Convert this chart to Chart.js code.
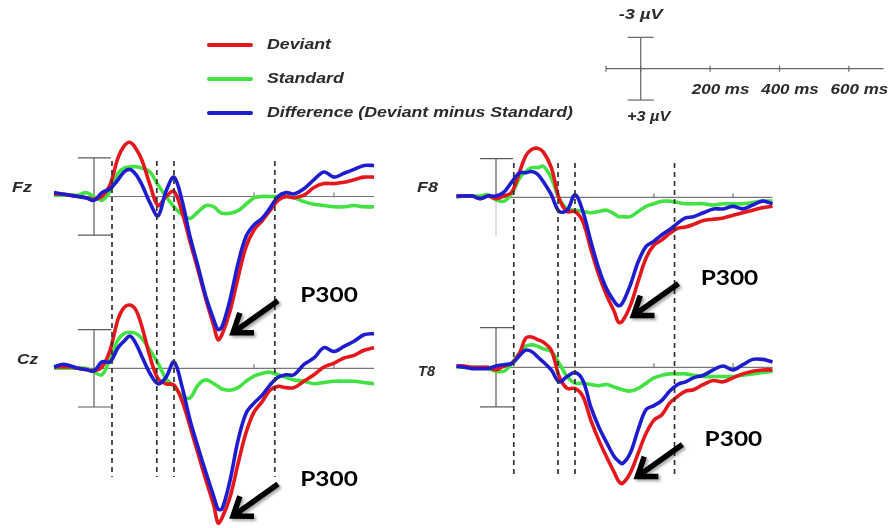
<!DOCTYPE html>
<html>
<head>
<meta charset="utf-8">
<script src="https://cdn.jsdelivr.net/npm/chart.js@4/dist/chart.umd.min.js"></script>
<style>
  html, body { margin: 0; background: #fff; }
  #wrap { position: relative; width: 891px; height: 528px; }
</style>
</head>
<body>
<div id="wrap"><canvas id="erp" width="891" height="528"></canvas></div>
<script>
// epoch sample times (ms)
const times = [-100, -80, -60, -40, -20, 0, 20, 40, 60, 75, 90, 105, 120, 140, 160, 180, 200, 220, 240, 260,
  280, 300, 310, 320, 340, 360, 380, 400, 420, 440, 460, 480, 500, 525, 550, 575, 600, 625, 650, 675, 700];

// grand averages in µV (negative plotted up)
const fzDeviant = [-0.2, -0.2, -0.1, 0, 0.1, 0.2, 0, -0.9, -3.0, -3.9, -4.2, -3.7, -2.8, -0.9, 0.7, 0, -0.4, 1.2, 3.5, 5.7,
  8.0, 10.1, 11.1, 10.7, 8.9, 6.3, 3.9, 2.6, 1.9, 1.1, 0.3, 0, 0.1, -0.1, -0.7, -1.0, -1.0, -1.1, -1.3, -1.5, -1.5];
const fzStandard = [-0.1, -0.1, -0.1, -0.1, -0.3, 0, 0.3, -0.4, -1.8, -2.2, -2.3, -2.3, -2.2, -1.9, -0.9, 0, 0.8, 1.4, 1.7, 1.2,
  0.7, 0.8, 1.1, 1.3, 1.3, 1.1, 0.6, 0.1, 0, 0, 0, 0, 0.1, 0.4, 0.6, 0.7, 0.8, 0.8, 0.7, 0.8, 0.8];
const fzDifference = [-0.3, -0.2, -0.1, 0, 0.1, 0.3, -0.3, -0.6, -1.3, -1.9, -2.1, -1.7, -0.9, 0.5, 1.5, -0.4, -1.5, 0.3, 3.1, 5.4,
  7.8, 9.6, 10.3, 10.1, 8.0, 5.2, 3.1, 2.2, 1.7, 0.9, 0, -0.3, -0.2, -0.6, -1.3, -1.9, -1.5, -1.8, -2.1, -2.4, -2.4];

const f8Deviant = [-0.1, -0.1, -0.1, 0.1, -0.1, 0.1, -0.1, -0.4, -2.0, -3.2, -3.7, -3.8, -3.5, -2.3, 0.1, 1.1, 1.1, 1.9, 4.0, 6.0,
  7.6, 8.9, 9.7, 9.6, 8.4, 6.5, 4.7, 3.7, 3.3, 2.8, 2.4, 2.3, 2.1, 1.8, 1.7, 1.6, 1.4, 1.2, 1.0, 0.8, 0.7];
const f8Standard = [0, -0.1, -0.1, -0.1, -0.2, 0.2, 0.3, -0.3, -1.5, -2.0, -2.3, -2.3, -2.4, -1.5, 0.1, 0.9, 1.0, 1.1, 1.2, 1.1,
  1.0, 1.3, 1.5, 1.5, 1.5, 1.1, 0.7, 0.5, 0.3, 0.3, 0.4, 0.5, 0.5, 0.5, 0.6, 0.5, 0.5, 0.5, 0.4, 0.3, 0.3];
const f8Difference = [-0.1, -0.1, -0.1, 0.1, -0.1, -0.1, -0.4, -1.2, -1.9, -1.9, -2.0, -1.8, -1.2, -0.2, 1.1, 1.0, -0.2, 1.1, 3.4, 5.5,
  7.1, 8.1, 8.4, 8.2, 6.8, 5.0, 3.8, 3.4, 2.9, 2.5, 2.0, 1.6, 1.5, 1.2, 0.9, 0.9, 0.7, 0.9, 0.6, 0.3, 0.5];

const czDeviant = [-0.1, -0.1, -0.1, 0, 0.1, 0.2, -0.1, -1.4, -3.8, -4.7, -4.9, -4.5, -3.2, -0.9, 0.8, 1.2, 1.3, 2.5, 4.5, 6.6,
  8.7, 10.7, 12.0, 11.6, 10.0, 7.4, 5.0, 3.4, 2.6, 1.7, 1.4, 1.5, 1.5, 1.0, 0.5, -0.1, -0.4, -0.8, -1.0, -1.4, -1.6];
const czStandard = [0, 0, 0, 0, 0, 0.3, 0.5, -0.7, -2.2, -2.7, -2.8, -2.7, -2.3, -1.4, -0.4, 0.8, 1.4, 2.1, 2.3, 1.3,
  0.9, 1.2, 1.4, 1.6, 1.7, 1.5, 1.0, 0.6, 0.4, 0.3, 0.5, 0.7, 0.9, 1.0, 1.2, 1.1, 1.0, 1.0, 1.0, 1.1, 1.2];
const czDifference = [-0.1, -0.3, -0.2, 0, 0.1, 0.2, -0.5, -0.5, -1.6, -2.1, -2.5, -1.9, -0.9, 0.4, 1.2, 0.7, -0.5, 1.4, 4.0, 6.1,
  8.1, 10.0, 10.9, 10.9, 8.7, 5.6, 3.5, 2.7, 2.1, 1.3, 0.7, 0.5, 0.5, -0.3, -0.8, -1.6, -1.3, -1.7, -2.1, -2.6, -2.7];

const t8Deviant = [-0.1, -0.1, 0, 0, 0, 0.2, -0.1, -0.3, -1.1, -2.2, -2.3, -2.1, -1.9, -1.3, 0.7, 1.6, 1.6, 2.2, 4.0, 5.5,
  6.8, 8.0, 8.6, 8.8, 8.0, 6.5, 5.0, 4.0, 3.6, 2.7, 2.2, 1.8, 1.7, 1.3, 1.0, 1.1, 0.8, 0.5, 0.3, 0.2, 0.2];
const t8Standard = [0, 0, 0, 0, 0.1, 0.3, 0.3, -0.3, -1.1, -1.6, -1.7, -1.6, -1.4, -1.2, -0.3, 0.7, 1.2, 1.2, 1.3, 1.4,
  1.3, 1.5, 1.6, 1.7, 1.8, 1.6, 1.2, 0.8, 0.6, 0.5, 0.5, 0.5, 0.6, 0.7, 0.7, 0.7, 0.7, 0.6, 0.5, 0.4, 0.3];
const t8Difference = [-0.1, 0, 0.1, 0.1, 0.1, -0.1, -0.2, -0.3, -0.9, -1.3, -1.2, -0.8, -0.4, 0.2, 1.1, 0.7, 0.4, 1.0, 3.0, 4.5,
  5.7, 6.8, 7.1, 7.3, 6.5, 4.7, 3.2, 2.9, 2.5, 1.8, 1.3, 1.1, 0.8, 0.6, 0.2, -0.1, 0.2, -0.2, -0.6, -0.6, -0.4];

const seriesNames = ['Deviant', 'Standard', 'Difference (Deviant minus Standard)'];
const seriesColours = ['#e5171c', '#43e243', '#1d1dcf'];
const seriesOrder = [1, 2, 0];          // blue on top, green underneath
const markerTimes = [45, 157, 200, 452]; // dashed latency markers (ms)
const axisTicks = [200, 400, 600];
const keyTickLabels = ['200 ms', '400 ms', '600 ms'];
const barMicrovolts = 3;
const peakLabel = 'P300';

const panels = [
  { name: 'Fz', x: 'xL', y: 'yFz', series: [fzDeviant, fzStandard, fzDifference], label: [22, 188, 20] },
  { name: 'F8', x: 'xR', y: 'yF8', series: [f8Deviant, f8Standard, f8Difference], label: [427.5, 188, 21], faintLower: true },
  { name: 'Cz', x: 'xL', y: 'yCz', series: [czDeviant, czStandard, czDifference], label: [27.5, 360, 21] },
  { name: 'T8', x: 'xR', y: 'yT8', series: [t8Deviant, t8Standard, t8Difference], label: [426.5, 372, 17] }
];

const W = 891, H = 528;
// hidden linear scale that puts value 0 at pixel `origin` with `perUnit` px per unit
function place(origin, perUnit, size, reverse) {
  return { type: 'linear', display: false, reverse: !!reverse, bounds: 'data',
    min: -origin / perUnit, max: (size - origin) / perUnit };
}

const datasets = [];
panels.forEach(p => {
  p.series.forEach((vals, i) => {
    datasets.push({
      label: p.name + ' ' + seriesNames[i],
      data: times.map((t, j) => ({ x: t, y: vals[j] })),
      xAxisID: p.x,
      yAxisID: p.y,
      borderColor: seriesColours[i],
      borderWidth: 3.6,
      pointRadius: 0,
      tension: 0.35,
      order: seriesOrder[i]
    });
  });
});

const FONT = '"Liberation Sans", Arial, sans-serif';

function fitText(ctx, text, x, y, font, width, align) {
  ctx.save();
  ctx.font = font;
  const w = ctx.measureText(text).width;
  ctx.translate(x, y);
  ctx.scale(width / w, 1);
  ctx.textAlign = align || 'center';
  ctx.textBaseline = 'middle';
  ctx.fillText(text, 0, 0);
  ctx.restore();
}

function line(ctx, x1, y1, x2, y2) {
  ctx.beginPath();
  ctx.moveTo(x1, y1);
  ctx.lineTo(x2, y2);
  ctx.stroke();
}

function arrow(ctx, tx, ty, hx, hy) {
  const a = Math.atan2(hy - ty, hx - tx);
  const L = 21, spread = 0.62;
  ctx.save();
  ctx.shadowColor = 'rgba(0,0,0,0.35)';
  ctx.shadowBlur = 3;
  ctx.shadowOffsetX = 2;
  ctx.shadowOffsetY = 2;
  ctx.strokeStyle = '#000';
  ctx.lineWidth = 5.5;
  ctx.lineJoin = 'miter';
  ctx.beginPath();
  ctx.moveTo(tx, ty);
  ctx.lineTo(hx - 3 * Math.cos(a), hy - 3 * Math.sin(a));
  ctx.moveTo(hx - L * Math.cos(a - spread), hy - L * Math.sin(a - spread));
  ctx.lineTo(hx, hy);
  ctx.lineTo(hx - L * Math.cos(a + spread), hy - L * Math.sin(a + spread));
  ctx.stroke();
  ctx.restore();
}

// vertical ±3 µV bar with end caps, centred on t = 0
function scaleBar(ctx, xs, ys, capL, capR, faintLower) {
  const x = xs.getPixelForValue(0);
  const top = ys.getPixelForValue(-barMicrovolts);
  const mid = ys.getPixelForValue(0);
  const bot = ys.getPixelForValue(barMicrovolts);
  ctx.strokeStyle = '#5a5a5a';
  line(ctx, x, top, x, mid);
  line(ctx, x - capL, top, x + capR, top);
  if (faintLower) {
    ctx.strokeStyle = '#c8c8c8';
    line(ctx, x, mid, x, bot);
  } else {
    line(ctx, x, mid, x, bot);
    line(ctx, x - capL, bot, x + capR, bot);
  }
}

const decor = {
  id: 'decor',
  beforeDatasetsDraw(chart) {
    const ctx = chart.ctx;
    const s = chart.scales;
    ctx.save();
    ctx.lineWidth = 1.2;
    panels.forEach(p => {
      const xs = s[p.x], ys = s[p.y];
      const y0 = ys.getPixelForValue(0);
      ctx.strokeStyle = '#777';
      line(ctx, xs.getPixelForValue(times[0]), y0, xs.getPixelForValue(times[times.length - 1]), y0);
      axisTicks.forEach(t => {
        const x = xs.getPixelForValue(t);
        line(ctx, x, y0 - 4, x, y0 + 1);
      });
      scaleBar(ctx, xs, ys, 16, 17, p.faintLower);
    });
    ctx.restore();
  },
  afterDatasetsDraw(chart) {
    const ctx = chart.ctx;
    const s = chart.scales;
    ctx.save();

    // latency markers, spanning both rows of each column
    ctx.strokeStyle = '#333';
    ctx.lineWidth = 1.7;
    ctx.setLineDash([5, 4]);
    [['xL', 161, 477], ['xR', 163, 477]].forEach(([id, top, bottom]) => {
      markerTimes.forEach(t => {
        const x = s[id].getPixelForValue(t);
        line(ctx, x, top, x, bottom);
      });
    });
    ctx.setLineDash([]);

    // channel names, P300 arrows
    panels.forEach(p => {
      const xs = s[p.x], ys = s[p.y];
      ctx.fillStyle = '#2b2b2b';
      fitText(ctx, p.name, p.label[0], p.label[1], 'italic bold 14px ' + FONT, p.label[2]);

      const dev = p.series[0];
      let k = 0;
      dev.forEach((v, i) => { if (v > dev[k]) k = i; });
      const hx = xs.getPixelForValue(times[k]) + 15;
      const hy = ys.getPixelForValue(dev[k]) - 7;
      arrow(ctx, hx + 45, hy - 32, hx, hy);
      ctx.fillStyle = '#000';
      fitText(ctx, peakLabel, hx + 96, hy - 37, 'bold 21px Lato, "Open Sans", sans-serif', 57.6);
    });

    // legend
    ctx.lineWidth = 4;
    ctx.lineCap = 'round';
    const legendRows = [45, 79, 113];
    const legendWidths = [64, 76.7, 306];
    seriesNames.forEach((n, i) => {
      ctx.strokeStyle = seriesColours[i];
      line(ctx, 209, legendRows[i], 251, legendRows[i]);
      ctx.fillStyle = '#2b2b2b';
      fitText(ctx, n, 267, legendRows[i], 'italic bold 15px ' + FONT, legendWidths[i], 'left');
    });
    ctx.lineCap = 'butt';

    // calibration key
    const kx = s.xK, ky = s.yK;
    const ky0 = ky.getPixelForValue(0);
    ctx.strokeStyle = '#666';
    ctx.lineWidth = 1.2;
    line(ctx, kx.getPixelForValue(times[0]), ky0, kx.getPixelForValue(times[times.length - 1]), ky0);
    [times[0], 0].concat(axisTicks).forEach(t => {
      const x = kx.getPixelForValue(t);
      line(ctx, x, ky0 - 3, x, ky0 + 3);
    });
    const kbx = kx.getPixelForValue(0);
    const kTop = ky.getPixelForValue(-barMicrovolts), kBot = ky.getPixelForValue(barMicrovolts);
    line(ctx, kbx, kTop, kbx, kBot);
    line(ctx, kbx - 13, kTop, kbx + 13, kTop);
    line(ctx, kbx - 13, kBot, kbx + 13, kBot);
    ctx.fillStyle = '#2b2b2b';
    fitText(ctx, '-' + barMicrovolts + ' µV', kbx, kTop - 22, 'italic bold 14px ' + FONT, 44);
    fitText(ctx, '+' + barMicrovolts + ' µV', kbx + 8, kBot + 17, 'italic bold 14px ' + FONT, 43.3);
    axisTicks.forEach((t, i) => {
      fitText(ctx, keyTickLabels[i], kx.getPixelForValue(t) + 10.5, ky0 + 21, 'italic bold 15px ' + FONT, 57.6);
    });

    ctx.restore();
  }
};

new Chart(document.getElementById('erp'), {
  type: 'line',
  data: { datasets },
  options: {
    responsive: false,
    animation: false,
    devicePixelRatio: 1,
    events: [],
    layout: { padding: 0 },
    plugins: { legend: { display: false }, tooltip: { enabled: false } },
    scales: {
      xL: place(94, 0.4, W),
      xR: place(496, 0.395, W),
      xK: place(640.7, 0.347, W),
      yFz: place(196.5, 12.9, H, true),
      yF8: place(197.3, 12.9, H, true),
      yCz: place(368.3, 12.9, H, true),
      yT8: place(367.3, 13.2, H, true),
      yK: place(68.7, 10.45, H, true)
    }
  },
  plugins: [decor]
});
</script>
</body>
</html>
